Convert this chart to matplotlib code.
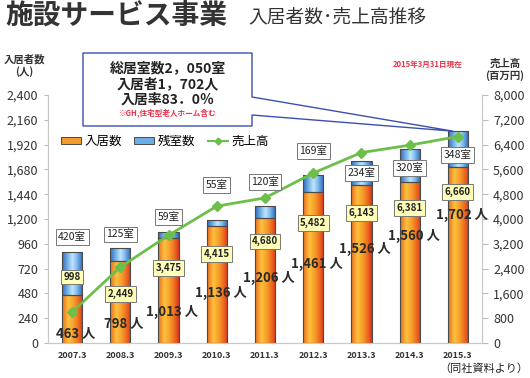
#!/usr/bin/env python
# -*- coding: utf-8 -*-
#
#  plot.py
#  施設サービス事業 入居者数・売上高推移

# # # # # import libraries # # # # #

import numpy as np
import matplotlib
matplotlib.use("Agg")
import matplotlib.pyplot as plt
from matplotlib.patches import Rectangle, Polygon, Patch
from matplotlib.lines import Line2D
from matplotlib.colors import LinearSegmentedColormap
from matplotlib.ticker import FuncFormatter

plt.rcParams['font.family'] = ['Noto Sans CJK JP', 'DejaVu Sans']


# # # # # data # # # # #

years = ["2007.3", "2008.3", "2009.3", "2010.3", "2011.3", "2012.3", "2013.3", "2014.3", "2015.3"]
residents = [463, 798, 1013, 1136, 1206, 1461, 1526, 1560, 1702]
vacant_rooms = [420, 125, 59, 55, 120, 169, 234, 320, 348]
sales = [998, 2449, 3475, 4415, 4680, 5482, 6143, 6381, 6660]

left_ticks = [0, 240, 480, 720, 960, 1200, 1440, 1680, 1920, 2160, 2400]
right_ticks = [0, 800, 1600, 2400, 3200, 4000, 4800, 5600, 6400, 7200, 8000]

# label heights (left axis units)
room_label_y = [1026, 1050, 1219, 1529, 1558, 1858, 1645, 1694, 1819]
sales_label_y = [639, 474, 726, 861, 985, 1161, 1258, 1306, 1461]
person_label_y = [97, 194, 300, 484, 629, 765, 910, 1035, 1239]


# # # # # figure # # # # #

fig = plt.figure(figsize=(5.3, 3.78), dpi=100)
fig.patch.set_facecolor("white")

ax = fig.add_axes([48/530, 1-343/378, (482-48)/530, (343-95)/378])
ax2 = ax.twinx()

x = np.arange(len(years))
bar_w = 0.42

orange_cmap = LinearSegmentedColormap.from_list(
	"orange", [(0, "#ec6a20"), (0.3, "#fbc23c"), (0.55, "#f7a02c"), (0.8, "#ee6a20"), (1, "#d9351a")])
blue_cmap = LinearSegmentedColormap.from_list(
	"blue", [(0, "#2e6cc0"), (0.35, "#8cc6f0"), (0.5, "#c4e4fa"), (0.7, "#84bff0"), (1, "#2c66b8")])
grad = np.linspace(0, 1, 64).reshape(1, -1)

# # # BARS # # #

for i in range(len(years)):
	x0 = x[i] - bar_w/2
	parts = [(0, residents[i], orange_cmap), (residents[i], vacant_rooms[i], blue_cmap)]
	for bottom, height, cmap in parts:
		rect = Rectangle((x0, bottom), bar_w, height, facecolor="none",
			edgecolor="#4a4a4a", linewidth=0.8, zorder=3)
		ax.add_patch(rect)
		img = ax.imshow(grad, cmap=cmap, aspect="auto", zorder=2,
			extent=[x0, x0+bar_w, bottom, bottom+height], interpolation="bilinear")
		img.set_clip_path(rect)

ax.set_xlim(-0.5, len(years)-0.5)
ax.set_ylim(0, 2400)
ax.set_yticks(left_ticks)
ax.yaxis.set_major_formatter(FuncFormatter(lambda v, p: "{:,.0f}".format(v)))
ax.set_xticks(x)
ax.set_xticklabels(years, fontsize=6.5, color="#333333", fontweight="bold")
ax.tick_params(axis="x", length=0, pad=6)
ax.tick_params(axis="y", labelsize=9, colors="#333333", length=3, pad=4)
ax.tick_params(axis="y", color="#bbbbbb")

# # # SALES LINE # # #

ax2.plot(x, sales, color="#6cbf4a", linewidth=2, marker="D", markersize=5,
	markerfacecolor="#6cbf4a", markeredgecolor="#6cbf4a", zorder=4)
ax2.set_ylim(0, 8000)
ax2.set_yticks(right_ticks)
ax2.yaxis.set_major_formatter(FuncFormatter(lambda v, p: "{:,.0f}".format(v)))
ax2.tick_params(axis="y", labelsize=9, colors="#333333", length=4, pad=4)
ax2.tick_params(axis="y", color="#bbbbbb")

for a in (ax, ax2):
	a.spines["top"].set_visible(False)
	for s in ("left", "right", "bottom"):
		a.spines[s].set_color("#c8c8c8")
		a.spines[s].set_linewidth(0.8)

# # # LABELS # # #

for i in range(len(years)):
	ax2.text(x[i], room_label_y[i], "{}室".format(vacant_rooms[i]), transform=ax.transData,
		ha="center", va="center", fontsize=7.5, color="#222222", zorder=6,
		bbox=dict(boxstyle="square,pad=0.25", facecolor="white", edgecolor="#777777", linewidth=0.7))
	ax2.text(x[i], sales_label_y[i], "{:,}".format(sales[i]), transform=ax.transData,
		ha="center", va="center", fontsize=7, color="#222222", fontweight="bold", zorder=6,
		bbox=dict(boxstyle="square,pad=0.25", facecolor="#ffffb8", edgecolor="#777777", linewidth=0.7))
	ax2.text(x[i]+0.08, person_label_y[i], "{:,} 人".format(residents[i]), transform=ax.transData,
		ha="center", va="center", fontsize=9.5, fontweight="bold", color="#2a2a2a", zorder=6)

# # # CALLOUT BOX # # #

tip = fig.transFigure.inverted().transform(ax.transData.transform((x[-1]-0.1, residents[-1]+vacant_rooms[-1])))
W, H = 530.0, 378.0
pts = [(83/W, 1-53/H), (252/W, 1-53/H), (252/W, 1-97/H), (tip[0], tip[1]),
	(252/W, 1-115/H), (252/W, 1-126/H), (83/W, 1-126/H)]
fig.patches.append(Polygon(pts, closed=True, facecolor="white", edgecolor="#3a4fb0",
	linewidth=1.0, transform=fig.transFigure, zorder=1))

fig.text(168/W, 1-68/H, "総居室数2，050室", ha="center", va="center", fontsize=10, fontweight="bold", color="#222222")
fig.text(168/W, 1-84/H, "入居者1，702人", ha="center", va="center", fontsize=10, fontweight="bold", color="#222222")
fig.text(168/W, 1-100/H, "入居率83．0％", ha="center", va="center", fontsize=10, fontweight="bold", color="#222222")
fig.text(168/W, 1-113/H, "※GH,住宅型老人ホーム含む", ha="center", va="center", fontsize=5.5, fontweight="bold", color="#e8334a")

# # # LEGEND # # #

leg_handles = [Patch(facecolor="#f49a2a", edgecolor="#4a4a4a", linewidth=0.7),
	Patch(facecolor="#6aaee8", edgecolor="#4a4a4a", linewidth=0.7),
	Line2D([], [], color="#6cbf4a", linewidth=1.5, marker="D", markersize=3.5)]
fig.legend(handles=leg_handles, labels=["入居数", "残室数", "売上高"], loc="center",
	bbox_to_anchor=(165/W, 1-141/H), ncol=3, frameon=False, fontsize=9,
	handlelength=1.6, handleheight=0.5, handletextpad=0.3, columnspacing=1.0)

# # # TITLES # # #

fig.text(5/W, 1-16/H, "施設サービス事業", ha="left", va="center", fontsize=20, fontweight="bold", color="#333333")
fig.text(248/W, 1-17/H, "入居者数･売上高推移", ha="left", va="center", fontsize=13.5, color="#333333")
fig.text(24/W, 1-66/H, "入居者数\n(人)", ha="center", va="center", fontsize=7.5, fontweight="bold",
	color="#333333", linespacing=1.2)
fig.text(505/W, 1-70/H, "売上高\n(百万円)", ha="center", va="center", fontsize=7.5, fontweight="bold",
	color="#333333", linespacing=1.2)
fig.text(428/W, 1-64/H, "2015年3月31日現在", ha="center", va="center", fontsize=5.5, fontweight="bold", color="#e8334a")
fig.text(528/W, 1-369/H, "（同社資料より）", ha="right", va="center", fontsize=8, color="#222222")

fig.savefig("out.png", dpi=100)
